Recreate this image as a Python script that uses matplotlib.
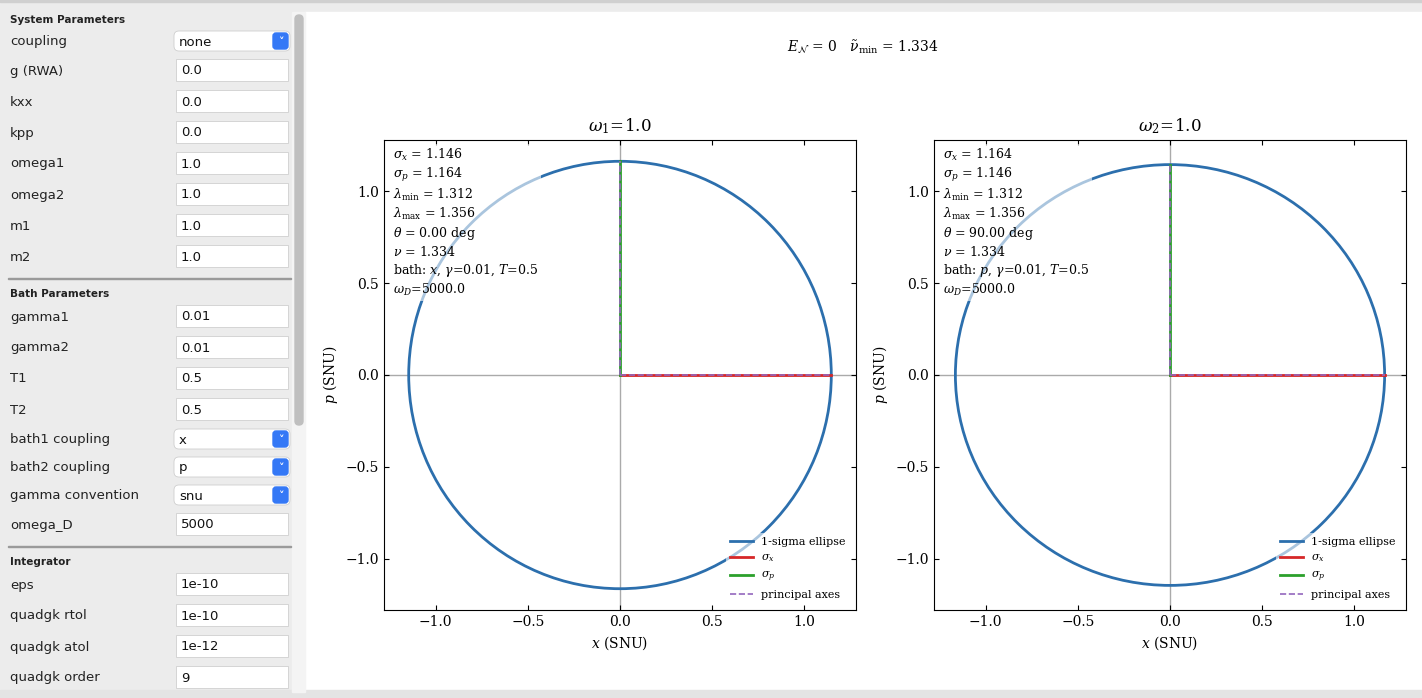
import numpy as np
import matplotlib
matplotlib.use("Agg")
import matplotlib.pyplot as plt
from matplotlib.patches import Rectangle, FancyBboxPatch, Ellipse

plt.rcParams["font.family"] = "DejaVu Serif"
plt.rcParams["mathtext.fontset"] = "dejavuserif"

# ---- sidebar content ----
SECTIONS = [
    ("System Parameters", [
        ("coupling", "none", "combo"), ("g (RWA)", "0.0", "edit"), ("kxx", "0.0", "edit"),
        ("kpp", "0.0", "edit"), ("omega1", "1.0", "edit"), ("omega2", "1.0", "edit"),
        ("m1", "1.0", "edit"), ("m2", "1.0", "edit")]),
    ("Bath Parameters", [
        ("gamma1", "0.01", "edit"), ("gamma2", "0.01", "edit"), ("T1", "0.5", "edit"),
        ("T2", "0.5", "edit"), ("bath1 coupling", "x", "combo"), ("bath2 coupling", "p", "combo"),
        ("gamma convention", "snu", "combo"), ("omega_D", "5000", "edit")]),
    ("Integrator", [
        ("eps", "1e-10", "edit"), ("quadgk rtol", "1e-10", "edit"),
        ("quadgk atol", "1e-12", "edit"), ("quadgk order", "9", "edit")]),
]
HEADER_Y = [19, 293, 561]
ROW_Y = [[41, 70, 101, 132, 163, 194, 225, 256],
         [316, 347, 378, 409, 439, 467, 495, 524],
         [584, 615, 646, 677]]
SEP_Y = [278, 546]

# ---- plot data ----
TITLES = [r"$\omega_1\!=\!1.0$", r"$\omega_2\!=\!1.0$"]
SIG_X = [1.146, 1.164]
SIG_P = [1.164, 1.146]
LAM_MIN = [1.312, 1.312]
LAM_MAX = [1.356, 1.356]
THETA = [0.00, 90.00]
NU = [1.334, 1.334]
BATH = ["x", "p"]
GAMMA = 0.01
TEMP = 0.5
OMEGA_D = 5000.0
E_N = 0
NU_MIN = 1.334

W, H = 1422, 698
fig = plt.figure(figsize=(W / 100, H / 100), dpi=100)
fig.patch.set_facecolor("#ececec")


def px(x, y):
    return x / W, 1 - y / H


def rect(x, y, w, h, **kw):
    fig.patches.append(Rectangle((x / W, 1 - (y + h) / H), w / W, h / H,
                                 transform=fig.transFigure, zorder=-5, **kw))


def rrect(x, y, w, h, r, **kw):
    fig.patches.append(FancyBboxPatch((x / W, 1 - (y + h) / H), w / W, h / H,
                                      boxstyle=f"round,pad=0,rounding_size={r / W}",
                                      transform=fig.transFigure, mutation_aspect=W / H,
                                      zorder=-4, **kw))


ui = dict(family="DejaVu Sans")
rect(0, 0, W, 2, color="#d0d0d0")
rect(305, 12, W - 305, 678, color="white")
rect(0, 690, W, 8, color="#e4e4e4")
rect(292, 12, 13, 680, color="#f4f4f4")
rrect(295, 15, 8, 410, 4, color="#bfbfbf")

for (head, rows), hy, ys in zip(SECTIONS, HEADER_Y, ROW_Y):
    fig.text(*px(10, hy + 1), head, fontsize=7.5, fontweight="bold", va="center", color="#222", **ui)
    for (lab, val, kind), y in zip(rows, ys):
        fig.text(*px(10, y + 1), lab, fontsize=9.5, va="center", color="#222", **ui)
        if kind == "edit":
            rect(176, y - 11, 112, 22, facecolor="white", edgecolor="#cfcfcf", lw=0.6)
            fig.text(*px(181, y + 1), val, fontsize=9.5, va="center", color="#111", **ui)
        else:
            rrect(174, y - 10, 116, 20, 5, facecolor="white", edgecolor="#cfcfcf", lw=0.6)
            rrect(273, y - 8, 15, 16, 3, color="#3478f6")
            fig.text(*px(280.5, y + 1), "\u02c5", fontsize=8, va="center", ha="center",
                     color="white", fontweight="bold", **ui)
            fig.text(*px(179, y + 1), val, fontsize=9.5, va="center", color="#111", **ui)
for sy in SEP_Y:
    rect(8, sy, 283, 1, color="#9a9a9a")

fig.text(*px(863, 47), rf"$E_\mathcal{{N}}$ = {E_N}   $\tilde\nu_\mathrm{{min}}$ = {NU_MIN:.3f}",
         ha="center", va="center", fontsize=10)

lim = 1.28
for i, left in enumerate([384, 934]):
    ax = fig.add_axes([left / W, 1 - 610 / H, 472 / W, 470 / H])
    ax.set_zorder(5)
    sx, sp = SIG_X[i], SIG_P[i]
    ax.axhline(0, color="#aaaaaa", lw=1, zorder=1)
    ax.axvline(0, color="#aaaaaa", lw=1, zorder=1)
    ax.add_patch(Ellipse((0, 0), 2 * sx, 2 * sp, fill=False, edgecolor="#2c6fad", lw=2, zorder=2))
    ax.plot([], [], color="#2c6fad", lw=2, label="1-sigma ellipse")
    ax.plot([0, sx], [0, 0], color="#d62728", lw=2, label=r"$\sigma_x$", zorder=3)
    ax.plot([0, 0], [0, sp], color="#2ca02c", lw=2, label=r"$\sigma_p$", zorder=3)
    ax.plot([0, sx], [0, 0], color="#9467bd", lw=1.2, ls="--", zorder=4, label="principal axes")
    ax.plot([0, 0], [0, sp], color="#9467bd", lw=1.2, ls="--", zorder=4)
    ax.set_xlim(-lim, lim)
    ax.set_ylim(-lim, lim)
    ax.set_xticks([-1.0, -0.5, 0.0, 0.5, 1.0])
    ax.set_yticks([-1.0, -0.5, 0.0, 0.5, 1.0])
    ax.tick_params(direction="in", top=True, right=True, labelsize=10)
    ax.set_xlabel(r"$x$ (SNU)", fontsize=10)
    ax.set_ylabel(r"$p$ (SNU)", fontsize=10)
    ax.set_title(TITLES[i], fontsize=12)
    txt = "\n".join([
        rf"$\sigma_x$ = {sx:.3f}",
        rf"$\sigma_p$ = {sp:.3f}",
        rf"$\lambda_\mathrm{{min}}$ = {LAM_MIN[i]:.3f}",
        rf"$\lambda_\mathrm{{max}}$ = {LAM_MAX[i]:.3f}",
        rf"$\theta$ = {THETA[i]:.2f} deg",
        rf"$\nu$ = {NU[i]:.3f}",
        rf"bath: ${BATH[i]}$, $\gamma$=0.01, $T$={TEMP}",
        rf"$\omega_D$={OMEGA_D}",
    ])
    ax.text(0.02, 0.985, txt, transform=ax.transAxes, va="top", ha="left", fontsize=9,
            linespacing=1.25, zorder=5,
            bbox=dict(facecolor="white", alpha=0.6, edgecolor="none", pad=2))
    leg = ax.legend(loc="lower right", fontsize=8, frameon=True, handlelength=2)
    leg.get_frame().set_edgecolor("none")
    leg.get_frame().set_alpha(0.6)

fig.savefig("out.png", dpi=100, facecolor=fig.get_facecolor())
